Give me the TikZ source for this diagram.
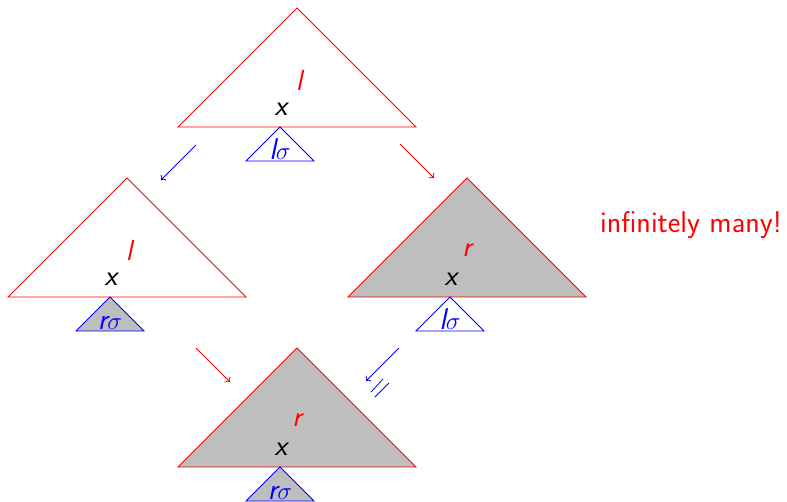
\documentclass[tikz,border=0pt]{standalone}
\usetikzlibrary{arrows.meta}
\definecolor{tgray}{RGB}{190,190,190}
\tikzset{
  bigtri/.style={draw=red, line width=0.8pt},
  smalltri/.style={draw=blue, line width=0.8pt},
  lab/.style={inner sep=0pt, font=\fontsize{29}{33}\selectfont\sffamily\itshape},
  redlab/.style={lab, text=red},
  sublab/.style={inner sep=0pt, text=blue, font=\fontsize{30}{34}\selectfont\sffamily\itshape, anchor=base},
  arr/.style={line width=0.8pt, -{To[length=4pt,width=8pt]}},
}
\begin{document}
\begin{tikzpicture}[x=1pt,y=-1pt]
\useasboundingbox (0,0) rectangle (787,501);
% top triangle
\draw[bigtri, fill=white] (178,127) -- (297,8) -- (416,127) -- cycle;
\draw[smalltri, fill=white] (246,161) -- (280,127) -- (314,161) -- cycle;
\node[redlab] (t1) at (299,80) {l};
\node[lab] (x1) at (281,109) {x};
\node[sublab] (s1) at (280,159) {l$\sigma$};
% left triangle
\draw[bigtri, fill=white] (8,297) -- (127,178) -- (246,297) -- cycle;
\draw[smalltri, fill=tgray] (76,331) -- (110,297) -- (144,331) -- cycle;
\node[redlab] (t2) at (129,250) {l};
\node[lab] (x2) at (111,279) {x};
\node[sublab] (s2) at (110,329) {r$\sigma$};
% right triangle
\draw[bigtri, fill=tgray] (348,297) -- (467,178) -- (586,297) -- cycle;
\draw[smalltri, fill=white] (416,331) -- (450,297) -- (484,331) -- cycle;
\node[redlab] (t3) at (467,250) {r};
\node[lab] (x3) at (451,279) {x};
\node[sublab] (s3) at (450,329) {l$\sigma$};
% bottom triangle
\draw[bigtri, fill=tgray] (178,467) -- (297,348) -- (416,467) -- cycle;
\draw[smalltri, fill=tgray] (246,501) -- (280,467) -- (314,501) -- cycle;
\node[redlab] (t4) at (297,420) {r};
\node[lab] (x4) at (281,449) {x};
\node[sublab] (s4) at (280,499) {r$\sigma$};
% text
\node[inner sep=0pt, text=red, anchor=base, font=\fontsize{30}{34}\selectfont\sffamily] (inf) at (691,232) {infinitely many!};
% arrows
\coordinate (a1s) at (196,145); \coordinate (a1e) at (161,180);
\coordinate (a2s) at (400,144); \coordinate (a2e) at (434,178);
\coordinate (a3s) at (196,348); \coordinate (a3e) at (230,382);
\coordinate (a4s) at (399,348); \coordinate (a4e) at (366,381);
\draw[arr, blue] (a1s) -- (a1e);
\draw[arr, red] (a2s) -- (a2e);
\draw[arr, red] (a3s) -- (a3e);
\draw[arr, blue] (a4s) -- (a4e);
\coordinate (e1a) at (383,379); \coordinate (e1b) at (371,392);
\coordinate (e2a) at (389,383); \coordinate (e2b) at (375,397);
\draw[blue, line width=0.8pt] (e1a) -- (e1b);
\draw[blue, line width=0.8pt] (e2a) -- (e2b);
\end{tikzpicture}
\end{document}
